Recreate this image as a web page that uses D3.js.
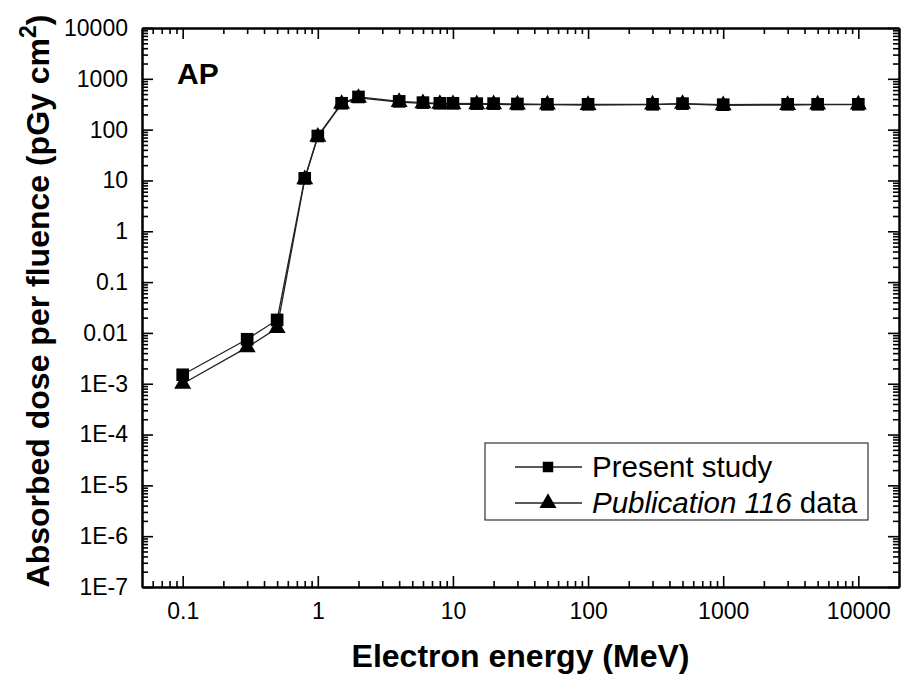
<!DOCTYPE html>
<html>
<head>
<meta charset="utf-8">
<script src="https://cdn.jsdelivr.net/npm/d3@7"></script>
<style>
  body { margin: 0; background: #fff; }
  svg { font-family: "Liberation Sans", Arial, sans-serif; }
</style>
</head>
<body>
<svg id="canvas" width="902" height="674"></svg>
<script>
let energies = [0.1, 0.3, 0.5, 0.8, 1, 1.5, 2, 4, 6, 8, 10, 15, 20, 30, 50, 100, 300, 500, 1000, 3000, 5000, 10000]
let presentStudy = [1.5e-3, 7.5e-3, 0.018, 11, 75, 330, 440, 360, 340, 330, 330, 325, 325, 320, 315, 315, 315, 325, 310, 315, 315, 315]
let pub116 = [1.0e-3, 5.2e-3, 0.0125, 10.5, 72, 320, 420, 350, 330, 320, 315, 315, 315, 310, 310, 305, 310, 320, 300, 305, 310, 310]

let xTicks = [0.1, 1, 10, 100, 1000, 10000]
let xTickLabels = ["0.1", "1", "10", "100", "1000", "10000"]
let yTicks = [1e4, 1e3, 100, 10, 1, 0.1, 0.01, 1e-3, 1e-4, 1e-5, 1e-6, 1e-7]
let yTickLabels = ["10000", "1000", "100", "10", "1", "0.1", "0.01", "1E-3", "1E-4", "1E-5", "1E-6", "1E-7"]

let canvas = d3.select("#canvas")

let plotLeft = 142, plotRight = 899, plotTop = 28, plotBottom = 587

let x = d3.scaleLog().domain([0.05, 20000]).range([plotLeft, plotRight])
let y = d3.scaleLog().domain([1e-7, 1e4]).range([plotBottom, plotTop])

// minor ticks: 2..9 in every decade
let minorTicks = (domain) => {
    let out = []
    for (let p = -8; p <= 5; p++) {
        for (let k = 2; k <= 9; k++) {
            let v = k * Math.pow(10, p)
            if (v > domain[0] * 1.0001 && v < domain[1] * 0.9999) out.push(v)
        }
    }
    return out
}

let drawAxis = (axisFn, scale, ticks, size, labels, pad, transform) => {
    let ax = axisFn(scale)
        .tickValues(ticks)
        .tickSizeInner(size)
        .tickSizeOuter(0)
        .tickPadding(pad)
        .tickFormat(labels ? (d, i) => labels[i] : "")
    let g = canvas.append("g").attr("transform", transform).call(ax)
    g.select(".domain").attr("stroke", "#000").attr("stroke-width", 2)
    g.selectAll(".tick line").attr("stroke", "#000").attr("stroke-width", 1.6)
    g.selectAll(".tick text").attr("font-size", 23).attr("fill", "#000")
    return g
}

// bottom / top
drawAxis(d3.axisBottom, x, minorTicks(x.domain()), -6, null, 0, `translate(0,${plotBottom})`)
drawAxis(d3.axisBottom, x, xTicks, -11, xTickLabels, 16, `translate(0,${plotBottom})`)
drawAxis(d3.axisTop, x, minorTicks(x.domain()), -6, null, 0, `translate(0,${plotTop})`)
drawAxis(d3.axisTop, x, xTicks, -11, null, 0, `translate(0,${plotTop})`)
// left / right
drawAxis(d3.axisLeft, y, minorTicks(y.domain()), -6, null, 0, `translate(${plotLeft},0)`)
drawAxis(d3.axisLeft, y, yTicks, -11, yTickLabels, 14, `translate(${plotLeft},0)`)
drawAxis(d3.axisRight, y, minorTicks(y.domain()), -6, null, 0, `translate(${plotRight},0)`)
drawAxis(d3.axisRight, y, yTicks, -11, null, 0, `translate(${plotRight},0)`)

let line = d3.line()
    .x((d, i) => x(energies[i]))
    .y((d) => y(d))

let series = [
    { values: pub116, symbol: d3.symbolTriangle, size: 125 },
    { values: presentStudy, symbol: d3.symbolSquare, size: 160 }
]

series.forEach((s) => {
    canvas.append("path")
        .attr("d", line(s.values))
        .attr("fill", "none")
        .attr("stroke", "#222")
        .attr("stroke-width", 1.3)
})

series.slice().reverse().forEach((s) => {
    canvas.append("g").selectAll("path")
        .data(s.values)
        .enter()
        .append("path")
        .attr("d", d3.symbol().type(s.symbol).size(s.size))
        .attr("transform", (d, i) => `translate(${x(energies[i])},${y(d)})`)
        .attr("fill", "#000")
})

// panel label
canvas.append("text")
    .attr("x", 177).attr("y", 84)
    .attr("font-size", 30).attr("font-weight", "bold")
    .text("AP")

// legend
let legend = canvas.append("g")
legend.append("rect")
    .attr("x", 485).attr("y", 443).attr("width", 383).attr("height", 77)
    .attr("fill", "#fff").attr("stroke", "#333").attr("stroke-width", 1.2)

let legendItems = [
    { y: 467, symbol: d3.symbolSquare, size: 110 },
    { y: 503, symbol: d3.symbolTriangle, size: 125 }
]
legendItems.forEach((it) => {
    legend.append("line")
        .attr("x1", 515).attr("x2", 582).attr("y1", it.y).attr("y2", it.y)
        .attr("stroke", "#222").attr("stroke-width", 1.3)
    legend.append("path")
        .attr("d", d3.symbol().type(it.symbol).size(it.size))
        .attr("transform", `translate(548,${it.y})`)
        .attr("fill", "#000")
})
legend.append("text")
    .attr("x", 592).attr("y", 477).attr("font-size", 29.5)
    .text("Present study")
let t2 = legend.append("text")
    .attr("x", 592).attr("y", 513).attr("font-size", 29.5)
t2.append("tspan").attr("font-style", "italic").text("Publication 116")
t2.append("tspan").text(" data")

// axis titles
canvas.append("text")
    .attr("x", (plotLeft + plotRight) / 2).attr("y", 667)
    .attr("text-anchor", "middle")
    .attr("font-size", 32).attr("font-weight", "bold")
    .text("Electron energy (MeV)")

let yt = canvas.append("text")
    .attr("transform", `translate(49,301) rotate(-90)`)
    .attr("text-anchor", "middle")
    .attr("font-size", 32).attr("font-weight", "bold")
yt.append("tspan").text("Absorbed dose per fluence (pGy cm")
yt.append("tspan").attr("font-size", 23).attr("dy", -13).text("2")
yt.append("tspan").attr("dy", 13).text(")")
</script>
</body>
</html>
